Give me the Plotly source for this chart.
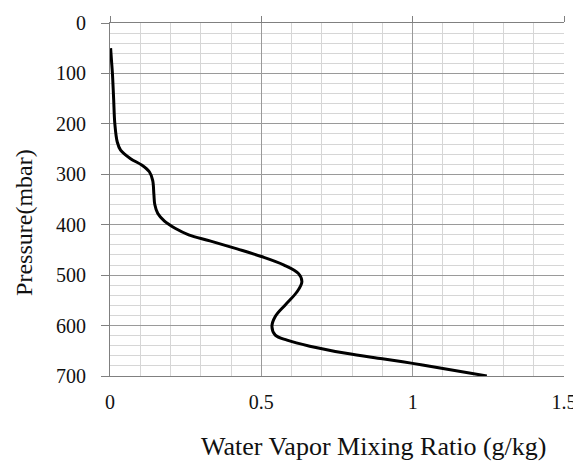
import plotly.graph_objects as go

# water vapor mixing ratio profile
mixing_ratio = [0.002, 0.005, 0.008, 0.012, 0.016, 0.024, 0.035, 0.068, 0.106, 0.130,
                0.141, 0.145, 0.148, 0.158, 0.180, 0.215, 0.260, 0.330, 0.420, 0.500,
                0.575, 0.623, 0.634, 0.618, 0.579, 0.546, 0.535, 0.546, 0.585, 0.660,
                0.780, 0.900, 1.000, 1.100, 1.245]
pressure = [50, 75, 100, 150, 200, 236, 252, 269, 282, 295,
            312, 340, 360, 378, 393, 407, 420, 432, 448, 463,
            480, 497, 513, 533, 559, 582, 602, 619, 629, 641,
            655, 666, 675, 685, 700]

x_ticks = [0, 0.5, 1, 1.5]
x_tick_text = ["0", "0.5", "1", "1.5"]
y_ticks = [0, 100, 200, 300, 400, 500, 600, 700]

FONT = "Liberation Serif"
MINOR = "#d6d6d6"
MAJOR = "#9a9a9a"
AXIS = "#808080"

fig = go.Figure()

fig.add_trace(go.Scatter(
    x=mixing_ratio, y=pressure, mode="lines",
    line=dict(color="black", width=3, shape="spline", smoothing=1.0),
    hoverinfo="skip",
))
# invisible copy so the top axis (tick marks only) is drawn
fig.add_trace(go.Scatter(
    x=mixing_ratio, y=pressure, mode="lines", xaxis="x2",
    line=dict(color="rgba(0,0,0,0)", width=0), hoverinfo="skip",
))

# page body has an 8px margin, so the figure is sized 8px smaller
fig.update_layout(
    width=573, height=453,
    paper_bgcolor="white", plot_bgcolor="white",
    margin=dict(l=102, r=17, t=15, b=85),
    showlegend=False,
    font=dict(family=FONT, color="#111111"),
    xaxis=dict(
        range=[0, 1.5], tickvals=x_ticks, ticktext=x_tick_text,
        tickfont=dict(size=20, family=FONT), ticks="", ticklabelstandoff=8,
        showgrid=True, gridcolor=MAJOR, gridwidth=1,
        minor=dict(dtick=0.1, tick0=0, showgrid=True, gridcolor=MINOR, gridwidth=1),
        showline=True, linecolor=AXIS, linewidth=1, mirror=False,
        zeroline=False, fixedrange=True, automargin=False,
    ),
    xaxis2=dict(
        range=[0, 1.5], overlaying="x", side="top", anchor="y",
        tickvals=x_ticks, showticklabels=False, ticks="outside", ticklen=6,
        tickcolor=AXIS, showgrid=False, showline=True, linecolor=AXIS,
        zeroline=False, fixedrange=True, automargin=False,
    ),
    yaxis=dict(
        range=[700, 0], tickvals=y_ticks,
        tickfont=dict(size=20, family=FONT), ticks="outside", ticklen=8,
        tickcolor=AXIS, ticklabelstandoff=11,
        showgrid=True, gridcolor=MAJOR, gridwidth=1,
        minor=dict(dtick=20, tick0=0, showgrid=True, gridcolor=MINOR, gridwidth=1),
        showline=True, linecolor=AXIS, linewidth=1,
        zeroline=False, fixedrange=True, automargin=False,
    ),
    annotations=[
        dict(text="Pressure(mbar)", textangle=-90, xref="paper", yref="y",
             x=-0.19, y=395, xanchor="center", yanchor="middle", showarrow=False,
             font=dict(size=24, family=FONT, color="#111111")),
        dict(text="Water Vapor Mixing Ratio (g/kg)", xref="x", yref="paper",
             x=0.87, y=-0.2, xanchor="center", yanchor="middle", showarrow=False,
             font=dict(size=26, family=FONT, color="#111111")),
    ],
)

# no scrollbars from the body margin
fig.write_html("out.html", post_script="document.body.style.overflow='hidden';")
